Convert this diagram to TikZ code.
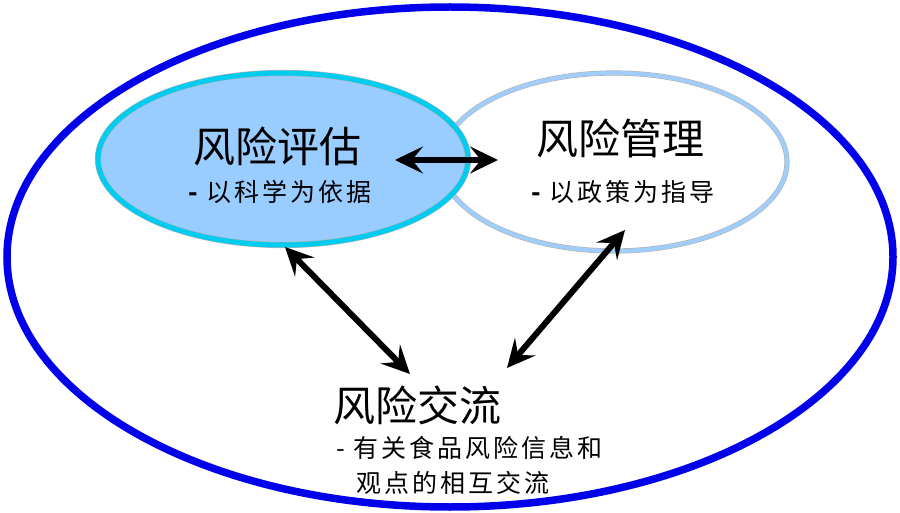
\documentclass[tikz,border=0pt]{standalone}
\usepackage{fontspec}
\setmainfont{Noto Sans CJK SC}
\newfontfamily\subfont[LetterSpace=12]{Noto Sans CJK SC}
\usetikzlibrary{arrows.meta,shapes.geometric}
\definecolor{outerblue}{RGB}{0,0,235}
\definecolor{assessfill}{RGB}{153,204,255}
\definecolor{assessline}{RGB}{0,204,240}
\definecolor{manageline}{RGB}{160,205,250}
\tikzset{
    title/.style={font=\fontsize{42}{46}\selectfont},
    sub/.style={font=\subfont\fontsize{25}{30}\selectfont},
    link/.style={line width=6pt,
        {Stealth[length=28pt,width=27pt,inset=11pt]}-{Stealth[length=28pt,width=27pt,inset=11pt]}},
}
\begin{document}
\begin{tikzpicture}[x=1pt, y=-1pt]
    \useasboundingbox (0,0) rectangle (900,513);
    \draw[outerblue, line width=7.5pt] (450,257) ellipse [x radius=443, y radius=250];
    % the two ellipses
    \node[ellipse, minimum width=346pt, minimum height=178pt, draw=gray!60, line width=0.6pt,
          double=manageline, double distance=4pt, fill=white] (manage) at (614,162) {};
    \node[ellipse, minimum width=370pt, minimum height=172pt, draw=gray!60, line width=0.6pt,
          double=assessline, double distance=5pt, fill=assessfill] (assess) at (283,159) {};
    % texts
    \node[title] (assesstitle) at (277,146) {风险评估};
    \node[sub] (assessnote) at (280,192) {\textbf{-}\kern6pt 以科学为依据};
    \node[title] (managetitle) at (620,138) {风险管理};
    \node[sub] (managenote) at (623,192) {\textbf{-}\kern6pt 以政策为指导};
    \node[title] (commtitle) at (417,405) {风险交流};
    \node[sub, anchor=west] (commnote) at (333,448) {- 有关食品风险信息和};
    \node[sub, anchor=west] (commnotetwo) at (353,483) {观点的相互交流};
    % arrow ends
    \coordinate (ha) at (395,160);
    \coordinate (hb) at (498,160);
    \coordinate (la) at (285,247);
    \coordinate (lb) at (410,374);
    \coordinate (ra) at (625,230);
    \coordinate (rb) at (507,368);
    \draw[link] (ha) -- (hb);
    \draw[link] (la) -- (lb);
    \draw[link] (ra) -- (rb);
\end{tikzpicture}
\end{document}
